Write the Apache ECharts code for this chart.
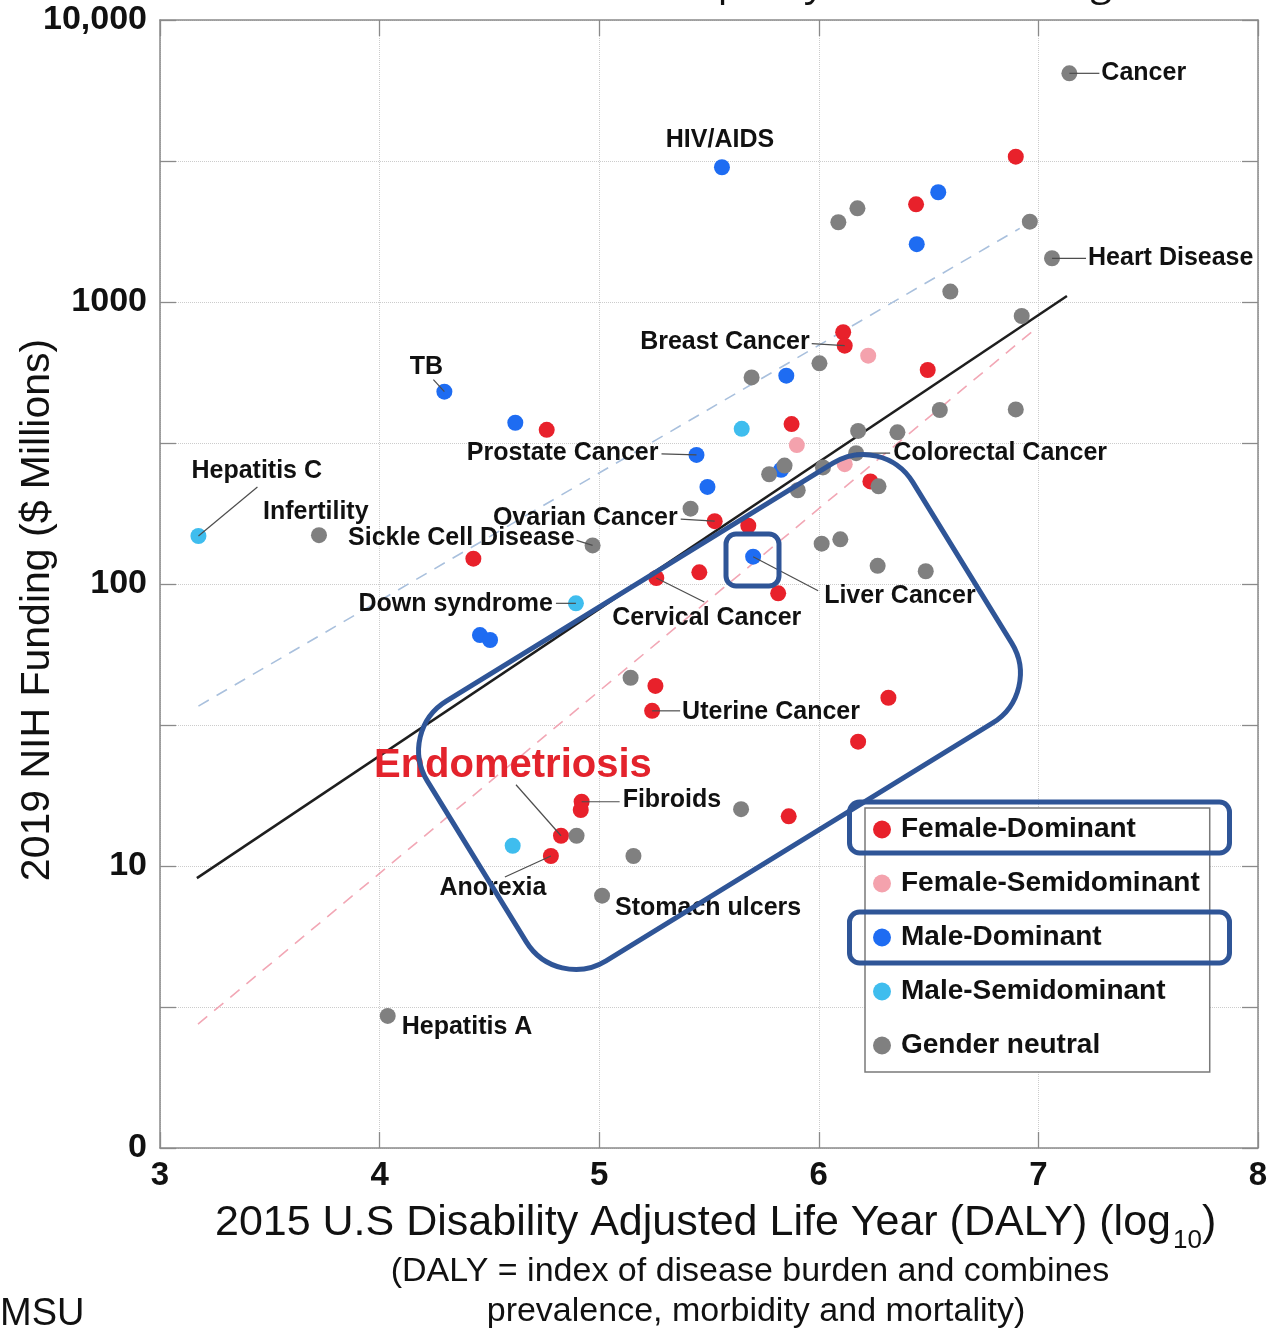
<!DOCTYPE html>
<html>
<head>
<meta charset="utf-8">
<script src="https://cdn.jsdelivr.net/npm/echarts@6/dist/echarts.min.js"></script>
<style>
html,body{margin:0;padding:0;background:#fff;}
#c{width:1273px;height:1333px;}
</style>
</head>
<body>
<div id="c"></div>
<script>
// ---- Data: [log10 DALY (2015 U.S.), NIH funding 2019 ($ millions)] ----
const femaleDominant = [
  [6.897,3275],[6.443,2220],[6.111,781],[6.118,700],[6.496,574],[5.876,369],
  [4.761,352],[4.427,123],[6.235,231],[5.526,167],[5.679,161],[5.456,110],
  [5.260,105],[5.815,92.7],[5.256,43.5],[5.241,35.5],[6.317,39.5],[6.179,27.6],
  [5.863,15.0],[4.920,16.9],[4.916,15.8],[4.826,12.8],[4.780,10.85]
];
const femaleSemidominant = [[6.225,645],[5.900,311],[6.118,266]];
const maleDominant = [
  [5.559,3005],[6.544,2450],[6.446,1603],[5.852,548],[5.443,287],[5.493,221],
  [4.295,481],[4.618,373],[5.701,125],[4.457,65.9],[4.503,63.3],[5.828,254]
];
const maleSemidominant = [[3.175,148],[5.649,355],[4.894,85.4],[4.606,11.8]];
const genderNeutral = [
  [7.141,6470],[6.176,2148],[6.089,1918],[6.961,1927],[7.062,1429],[6.599,1089],
  [6.924,892],[6.003,606],[5.694,540],[6.179,349],[6.358,345],[6.551,414],
  [6.897,416],[6.170,291],[5.844,263],[5.774,245],[6.019,259],[6.272,222],
  [5.904,215],[5.416,185],[6.013,139],[6.098,144],[6.268,116],[6.487,111],
  [3.724,149],[4.970,137],[5.143,46.5],[4.897,12.8],[5.156,10.85],[5.013,7.85],
  [5.646,15.9],[4.037,2.94]
];
// fitted trend lines (end points)
const fitAll = [[3.168,9.06],[7.130,1050]];
const fitMale = [[3.175,36.9],[6.915,1824]];
const fitFemale = [[3.173,2.75],[6.971,785]];
// axis tick labels (by decade exponent)
const yTickLabels = ['0','10','100','1000','10,000'];
const xTickValues = [3,4,5,6,7,8];

// ---- annotation layout (label offsets in px from the marked point) ----
const annotations = [
  {text:'Cancer', src:genderNeutral, i:0, dx:32, dy:0, align:'left', line:[30,0]},
  {text:'HIV/AIDS', src:maleDominant, i:0, dx:-2, dy:-27, align:'center'},
  {text:'Heart Disease', src:genderNeutral, i:4, dx:36, dy:0, align:'left', line:[34,0]},
  {text:'Breast Cancer', src:femaleDominant, i:3, dx:-35, dy:-4, align:'right', line:[-33,-2]},
  {text:'TB', src:maleDominant, i:6, dx:-18, dy:-25, align:'center', line:[-11,-12]},
  {text:'Prostate Cancer', src:maleDominant, i:4, dx:-38, dy:-2, align:'right', line:[-35,-1]},
  {text:'Colorectal Cancer', src:genderNeutral, i:13, dx:37, dy:0, align:'left', line:[34,0]},
  {text:'Hepatitis C', src:maleSemidominant, i:0, dx:-7, dy:-65, align:'left', line:[59,-49]},
  {text:'Infertility', src:genderNeutral, i:24, dx:-56, dy:-23, align:'left'},
  {text:'Ovarian Cancer', src:femaleDominant, i:9, dx:-37, dy:-3, align:'right', line:[-34,-2]},
  {text:'Sickle Cell Disease', src:genderNeutral, i:25, dx:-18, dy:-7, align:'right', line:[-16,-5]},
  {text:'Down syndrome', src:maleSemidominant, i:2, dx:-23, dy:1, align:'right', line:[-20,0]},
  {text:'Cervical Cancer', src:femaleDominant, i:12, dx:-44, dy:40, align:'left', line:[48,24]},
  {text:'Liver Cancer', src:maleDominant, i:8, dx:71, dy:39, align:'left', line:[65,34]},
  {text:'Uterine Cancer', src:femaleDominant, i:15, dx:30, dy:1, align:'left', line:[28,0]},
  {text:'Endometriosis', src:femaleDominant, i:21, dx:-187, dy:-70, align:'left', line:[-45,-51], big:true},
  {text:'Fibroids', src:femaleDominant, i:19, dx:41, dy:-2, align:'left', line:[38,0]},
  {text:'Anorexia', src:femaleDominant, i:22, dx:-58, dy:32, align:'center', line:[-46,21]},
  {text:'Stomach ulcers', src:genderNeutral, i:29, dx:13, dy:12, align:'left'},
  {text:'Hepatitis A', src:genderNeutral, i:31, dx:14, dy:11, align:'left'}
];

const FONT = '"Liberation Sans", Arial, Helvetica, sans-serif';
const OUTLINE = '#2F5597';
const toLog = d => [d[0], Math.log10(d[1])];

const chart = echarts.init(document.getElementById('c'), null, {renderer:'canvas'});

const axisLineStyle = {color:'#8a8a8a', width:1.5};
const tickStyle = {show:true, inside:true, length:16, lineStyle:{color:'#8a8a8a', width:1.3}};
const gridStyle = {show:true, lineStyle:{type:'dotted', color:'#cccccc', width:1}};

function scatter(name, data, color){
  return {name, type:'scatter', data:data.map(toLog), symbol:'circle', symbolSize:16,
    itemStyle:{color, opacity:1}, z:3, silent:true};
}
function fitLine(data, color, width, type){
  return {type:'line', data:data.map(toLog), symbol:'none', showSymbol:false, silent:true,
    lineStyle:{color, width, type}, z:1};
}

const option = {
  animation:false,
  backgroundColor:'#ffffff',
  grid:{left:160, right:15, top:20, bottom:185},
  xAxis:[
    {type:'value', min:xTickValues[0], max:xTickValues[xTickValues.length-1], interval:1, position:'bottom',
     axisLine:{show:true, onZero:false, lineStyle:axisLineStyle}, axisTick:tickStyle,
     axisLabel:{color:'#111', fontFamily:FONT, fontWeight:'bold', fontSize:33, margin:11},
     splitLine:gridStyle},
    {type:'value', min:xTickValues[0], max:xTickValues[xTickValues.length-1], interval:1, position:'top',
     axisLine:{show:true, onZero:false, lineStyle:axisLineStyle}, axisTick:tickStyle,
     axisLabel:{show:false}, splitLine:{show:false}}
  ],
  yAxis:[
    {type:'value', min:0, max:4, interval:0.5, position:'left',
     axisLine:{show:true, onZero:false, lineStyle:axisLineStyle}, axisTick:tickStyle,
     axisLabel:{color:'#111', fontFamily:FONT, fontWeight:'bold', fontSize:34, margin:13,
       showMinLabel:true, showMaxLabel:true,
       formatter: v => (Math.abs(v - Math.round(v)) < 1e-6 ? yTickLabels[Math.round(v)] : '')},
     splitLine:gridStyle},
    {type:'value', min:0, max:4, interval:0.5, position:'right',
     axisLine:{show:true, onZero:false, lineStyle:axisLineStyle}, axisTick:tickStyle,
     axisLabel:{show:false}, splitLine:{show:false}}
  ],
  legend:{
    data:['Female-Dominant','Female-Semidominant','Male-Dominant','Male-Semidominant','Gender neutral'],
    orient:'vertical', left:865, top:808, icon:'circle', itemWidth:28, itemHeight:18, itemGap:25,
    padding:[7,10,12,8], backgroundColor:'#fff', borderColor:'#7a7a7a', borderWidth:1.5,
    selectedMode:false,
    textStyle:{fontFamily:FONT, fontWeight:'bold', fontSize:28, color:'#111', lineHeight:29}
  },
  series:[
    fitLine(fitMale, '#A9C0DD', 1.6, [12,9]),
    fitLine(fitFemale, '#F2A7B5', 1.6, [12,9]),
    fitLine(fitAll, '#1e1e1e', 2.5, 'solid'),
    scatter('Female-Dominant', femaleDominant, '#E8212B'),
    scatter('Female-Semidominant', femaleSemidominant, '#F4A2AD'),
    scatter('Male-Dominant', maleDominant, '#1E6CF2'),
    scatter('Male-Semidominant', maleSemidominant, '#3FBDEE'),
    scatter('Gender neutral', genderNeutral, '#808080')
  ]
};
chart.setOption(option);

function txt(x, y, text, font, color, align, vAlign, extra){
  return Object.assign({type:'text', x, y, silent:true, z:60,
    style:{text, font, fill:color, align:align, verticalAlign:vAlign,
      textAlign:align, textVerticalAlign:vAlign}}, extra || {});
}

const graphics = [];
annotations.forEach(a => {
  const d = a.src[a.i];
  const p = chart.convertToPixel({xAxisIndex:0, yAxisIndex:0}, toLog(d));
  if (a.line){
    graphics.push({type:'line', silent:true, z:55,
      shape:{x1:p[0], y1:p[1], x2:p[0]+a.line[0], y2:p[1]+a.line[1]},
      style:{stroke:'#4d4d4d', lineWidth:1.2}});
  }
  if (a.big){
    graphics.push(txt(p[0]+a.dx, p[1]+a.dy, a.text, 'bold 40px ' + FONT, '#E3232C', a.align, 'middle'));
  } else {
    graphics.push(txt(p[0]+a.dx, p[1]+a.dy, a.text, 'bold 25px ' + FONT, '#111', a.align, 'middle'));
  }
});

// highlight outlines
graphics.push({type:'rect', x:719.5, y:712, rotation:31.6*Math.PI/180, silent:true, z:80,
  shape:{x:-285, y:-152.5, width:570, height:305, r:58},
  style:{fill:'rgba(0,0,0,0)', stroke:OUTLINE, lineWidth:5}});
graphics.push({type:'rect', silent:true, z:80, shape:{x:726, y:534, width:53, height:52, r:10},
  style:{fill:'rgba(0,0,0,0)', stroke:OUTLINE, lineWidth:5}});
graphics.push({type:'rect', silent:true, z:80, shape:{x:849.5, y:802, width:380, height:51, r:10},
  style:{fill:'rgba(0,0,0,0)', stroke:OUTLINE, lineWidth:5}});
graphics.push({type:'rect', silent:true, z:80, shape:{x:849.5, y:912, width:380, height:51, r:10},
  style:{fill:'rgba(0,0,0,0)', stroke:OUTLINE, lineWidth:5}});

// axis names & notes
graphics.push(txt(38, 610, '2019 NIH Funding ($ Millions)', '41px ' + FONT, '#111', 'center', 'middle', {rotation:Math.PI/2}));
graphics.push(txt(1171, 1223, '2015 U.S Disability Adjusted Life Year (DALY) (log', '43px ' + FONT, '#111', 'right', 'middle'));
graphics.push(txt(1173, 1241, '10', '26px ' + FONT, '#111', 'left', 'middle'));
graphics.push(txt(1202, 1223, ')', '43px ' + FONT, '#111', 'left', 'middle'));
graphics.push(txt(750, 1272, '(DALY = index of disease burden and combines', '34px ' + FONT, '#111', 'center', 'middle'));
graphics.push(txt(756, 1312, 'prevalence, morbidity and mortality)', '34px ' + FONT, '#111', 'center', 'middle'));
graphics.push(txt(0, 1315, 'MSU', '38px ' + FONT, '#111', 'left', 'middle'));
graphics.push(txt(1112, -16, 'Gender Disparity in NIH Funding', '40px "Open Sans", ' + FONT, '#111', 'right', 'middle'));

chart.setOption({graphic:{elements:graphics}});
</script>
</body>
</html>
